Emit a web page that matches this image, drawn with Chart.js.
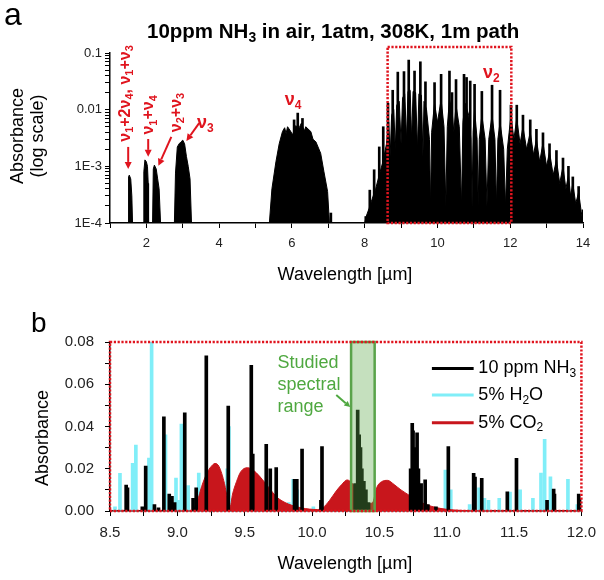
<!doctype html>
<html lang="en">
<head>
<meta charset="utf-8">
<title>NH3 absorbance spectra</title>
<script src="https://cdn.jsdelivr.net/npm/chart.js@4.4.1/dist/chart.umd.min.js"></script>
<style>
  *{ margin:0; padding:0; box-sizing:border-box; }
  body{ width:604px; height:580px; background:#fff; position:relative; overflow:hidden;
        font-family:Arial, "Liberation Sans", Helvetica, sans-serif; color:#000; }
  .pane{ position:absolute; left:0; width:604px; height:290px; }
  #paneA{ top:0; }
  #paneB{ top:290px; }
  .txt{ position:absolute; white-space:nowrap; line-height:1; }
  .mid{ transform:translate(-50%,-50%); }
  .rot{ transform:translate(-50%,-50%) rotate(-90deg); }
  sub{ font-size:0.68em; vertical-align:-0.28em; line-height:0; }
</style>
</head>
<body>
  <div class="pane" id="paneA"><canvas id="chartA" width="604" height="290"></canvas></div>
  <div class="pane" id="paneB"><canvas id="chartB" width="604" height="290"></canvas></div>

  <div class="txt" style="left:4px;top:-2px;font-size:32px">a</div>
  <div class="txt" style="left:147px;top:21px;font-size:20.5px;font-weight:bold">10ppm NH<sub>3</sub> in air, 1atm, 308K, 1m path</div>
  <div class="txt rot" style="left:17px;top:136px;font-size:18px">Absorbance</div>
  <div class="txt rot" style="left:37px;top:136px;font-size:18px">(log scale)</div>
  <div class="txt mid" style="left:345px;top:274px;font-size:18px">Wavelength [&micro;m]</div>

  <div class="txt" style="left:31px;top:309px;font-size:28px">b</div>
  <div class="txt rot" style="left:42px;top:438px;font-size:18px">Absorbance</div>
  <div class="txt mid" style="left:345px;top:563px;font-size:18px">Wavelength [&micro;m]</div>

<script>
// ---- panel a : NH3 band overview (log scale) ----
// dense band envelopes, 1e-4 = baseline between bands
const bandWl = [
  1.50, 1.51, 1.53, 1.57, 1.60, 1.62,
  1.91, 1.93, 1.96, 2.00, 2.03, 2.05, 2.06,
  2.17, 2.19, 2.22, 2.27, 2.31, 2.35, 2.39,
  2.77, 2.80, 2.85, 2.90, 2.95, 3.00, 3.05, 3.10, 3.15, 3.20, 3.24,
  5.38, 5.45, 5.56, 5.65, 5.74, 5.80, 5.84, 5.88, 5.96, 6.02, 6.10, 6.20, 6.26, 6.34, 6.38, 6.52, 6.58, 6.66, 6.79, 6.88, 6.98, 7.03,
  8.00, 8.04, 8.12, 8.20, 8.30, 8.40, 8.50, 8.60, 8.66, 8.70, 8.74, 8.80, 8.84, 8.88, 8.95, 9.00, 9.04, 9.10,
  9.15, 9.19, 9.25, 9.29, 9.33, 9.40, 9.45, 9.49, 9.56, 9.60, 9.63,
  9.70, 9.78, 9.81, 9.84, 9.92, 10.00, 10.10, 10.18, 10.23, 10.27, 10.33, 10.40, 10.45, 10.51, 10.60, 10.66,
  10.70, 10.76, 10.86, 10.92, 10.95, 10.98, 11.02, 11.09, 11.12, 11.15, 11.22, 11.31, 11.36, 11.41, 11.50,
  11.58, 11.62, 11.66, 11.72, 11.82, 11.87, 11.92, 11.97,
  12.02, 12.10, 12.18, 12.27, 12.35, 12.45, 12.55, 12.64, 12.72, 12.81, 12.90, 13.00, 13.08, 13.18, 13.27,
  13.36, 13.45, 13.53, 13.60, 13.66, 13.72, 13.80, 13.88, 13.95, 14.00
];
const bandAbs = [
  1e-4, 6.5e-4, 7e-4, 6e-4, 3e-4, 1e-4,
  1e-4, 8e-4, 1.3e-3, 1.2e-3, 1.0e-3, 5e-4, 1e-4,
  1e-4, 9e-4, 1.05e-3, 9e-4, 6e-4, 4e-4, 1e-4,
  1e-4, 7.6e-4, 2.2e-3, 2.5e-3, 2.7e-3, 2.9e-3, 2.5e-3, 1.5e-3, 1.0e-3, 6e-4, 1e-4,
  1e-4, 4e-4, 1.2e-3, 2.5e-3, 4.1e-3, 4.8e-3, 3.8e-3, 5e-3, 4.2e-3, 3.6e-3, 5.2e-3, 4.8e-3, 5.8e-3, 4.2e-3, 5e-3, 4.1e-3, 3.0e-3, 2.7e-3, 1.7e-3, 8e-4, 3.6e-4, 1e-4,
  1e-4, 1.3e-4, 1.8e-4, 2.6e-4, 4e-4, 7e-4, 1.2e-3, 2.5e-3, 6e-3, 1.5e-3, 8e-3, 0.010, 2e-3, 0.012, 0.014, 2.5e-3, 0.016, 0.019,
  3e-3, 0.021, 0.022, 3e-3, 0.021, 0.020, 2e-3, 0.019, 0.018, 1.5e-3, 0.014,
  0.010, 0.003, 2e-4, 0.004, 0.013, 0.006, 0.015, 0.005, 2e-4, 0.005, 0.015, 0.010, 0.004, 0.012, 0.005, 2e-4,
  0.006, 0.013, 0.008, 0.003, 2e-4, 0.004, 0.010, 0.003, 2e-4, 0.003, 0.008, 0.003, 2e-4, 0.003, 0.008,
  0.003, 2e-4, 0.003, 0.006, 0.002, 2e-4, 0.002, 0.004,
  0.008, 0.003, 0.007, 0.0025, 0.005, 0.002, 0.004, 0.0016, 0.003, 0.0012, 0.0026, 0.001, 0.0018, 7e-4, 0.0013,
  5e-4, 1e-3, 4e-4, 7e-4, 3e-4, 5e-4, 2.2e-4, 3.5e-4, 1.6e-4, 1e-4
];
// strong individual lines
const lineWl = [
  6.06, 6.16, 6.29, 7.07,
  8.03, 8.14, 8.26, 8.40, 8.51, 8.64, 8.77, 8.91, 9.08, 9.21, 9.37, 9.53, 9.67, 9.92, 10.10,
  10.33, 10.40, 10.51, 10.73, 10.80, 10.90, 11.02, 11.22, 11.50,
  11.72, 12.02, 12.18, 12.35, 12.55, 12.72, 12.90, 13.08, 13.27, 13.45, 13.60, 13.72, 13.88, 14.00
];
const lineAbs = [
  6.6e-3, 8.7e-3, 7e-3, 1.5e-4,
  1.3e-4, 3.8e-4, 8.7e-4, 2.2e-3, 5e-3, 0.013, 0.022, 0.046, 0.047, 0.075, 0.048, 0.070, 0.031, 0.030, 0.042,
  0.048, 0.020, 0.034, 0.042, 0.037, 0.032, 0.028, 0.021, 0.027,
  0.022, 0.012, 0.012, 0.008, 6.6e-3, 4.5e-3, 3.9e-3, 2.5e-3, 1.9e-3, 1.4e-3, 1.0e-3, 6.5e-4, 4.4e-4, 1.7e-4
];
const xTicksA = [2, 4, 6, 8, 10, 12, 14];
const yTicksA = [1e-4, 1e-3, 0.01, 0.1];
const yTickTextA = ['1E-4', '1E-3', '0.01', '0.1'];

// ---- panel b : 8.5-12 um detail ----
const nh3Wl = [
  8.62, 8.63, 8.74, 8.765, 8.83, 8.86, 8.90, 8.94, 8.96, 8.98, 9.055, 9.117, 9.14, 9.215, 9.378, 9.549, 9.56,
  9.66, 9.69, 9.734, 9.87, 9.887, 9.926, 10.066, 10.074,
  10.32, 10.339, 10.35, 10.36, 10.37, 10.385, 10.40, 10.42,
  10.732, 10.744, 10.75, 10.76, 10.77, 10.78, 10.79, 10.81, 10.84, 10.86, 10.92,
  11.012, 11.20, 11.21, 11.26, 11.45, 11.518, 11.745, 11.794, 11.80, 11.98, 11.99
];
const nh3Abs = [
  0.0123, 0.011, 0.002, 0.0213, 0.003, 0.0015, 0.0446, 0.008, 0.007, 0.004, 0.0465, 0.006, 0.011, 0.0734, 0.0497, 0.069, 0.027,
  0.0316, 0.020, 0.0205, 0.015, 0.015, 0.0293, 0.005, 0.0305,
  0.013, 0.0478, 0.036, 0.030, 0.020, 0.014, 0.010, 0.004,
  0.020, 0.0415, 0.038, 0.030, 0.025, 0.037, 0.020, 0.013, 0.0147, 0.003, 0.002,
  0.0305, 0.0178, 0.016, 0.0155, 0.0091, 0.0249, 0.005, 0.0104, 0.008, 0.008, 0.006
];
const h2oWl = [
  8.537, 8.574, 8.668, 8.692, 8.789, 8.809, 8.912, 8.99, 9.01, 9.03, 9.08, 9.159, 9.37, 9.383,
  9.827, 9.86, 9.89, 10.01, 10.99, 11.03, 11.17, 11.24, 11.28, 11.31, 11.39, 11.47, 11.545,
  11.64, 11.70, 11.727, 11.77, 11.90, 11.97
];
const h2oAbs = [
  0.002, 0.0178, 0.0226, 0.0312, 0.025, 0.080, 0.036, 0.0156, 0.005, 0.0412, 0.012, 0.018, 0.020, 0.040,
  0.004, 0.015, 0.010, 0.002, 0.0194, 0.010, 0.003, 0.011, 0.006, 0.005, 0.006, 0.009, 0.010,
  0.006, 0.018, 0.0339, 0.0162, 0.015, 0.003
];
const co2Wl = [
  8.50, 9.08, 9.12, 9.15, 9.18, 9.22, 9.25, 9.28, 9.31, 9.35, 9.375, 9.39, 9.41, 9.44, 9.47, 9.52, 9.57,
  9.63, 9.68, 9.74, 9.80, 9.85, 9.92, 9.98, 10.04, 10.08, 10.13, 10.18, 10.22, 10.26, 10.30, 10.34, 10.38,
  10.42, 10.45, 10.48, 10.52, 10.56, 10.61, 10.66, 10.72, 10.78, 10.85, 10.93, 11.00, 11.10, 11.25, 12.00
];
const co2Abs = [
  0, 0, 0.0008, 0.005, 0.0115, 0.018, 0.021, 0.0225, 0.021, 0.013, 0.005, 0.0015, 0.008, 0.014, 0.0185, 0.0205, 0.019,
  0.015, 0.011, 0.0065, 0.004, 0.0027, 0.0015, 0.0009, 0.0007, 0.0015, 0.005, 0.0095, 0.0125, 0.0147, 0.013, 0.0095, 0.006,
  0.0035, 0.004, 0.011, 0.014, 0.0145, 0.0125, 0.010, 0.0075, 0.005, 0.003, 0.0015, 0.0008, 0.0003, 0, 0
];
const xTicksB = [8.5, 9.0, 9.5, 10.0, 10.5, 11.0, 11.5, 12.0];
const yTicksB = [0, 0.02, 0.04, 0.06, 0.08];

const FONT = 'Arial, "Liberation Sans", Helvetica, sans-serif';
const RED = '#e0141e';
const CO2RED = '#c8161c';
const CYAN = '#80eef8';
const GREEN = '#4fa840';

Chart.defaults.font.family = FONT;
Chart.defaults.color = '#222';

const pts = (xs, ys) => xs.map((v, i) => ({ x: v, y: ys[i] }));
const near = (arr, v) => arr.some(t => Math.abs(t - v) < 1e-6);

function rich(ctx, parts, cx, cy, size, opts) {
  opts = opts || {};
  const wt = opts.bold === false ? '' : 'bold ';
  const fm = wt + size + 'px ' + FONT, fs = wt + Math.round(size * 0.68) + 'px ' + FONT;
  ctx.save();
  ctx.translate(cx, cy);
  if (opts.rot) ctx.rotate(opts.rot);
  ctx.textBaseline = 'middle';
  ctx.textAlign = 'left';
  let w = 0;
  for (const [t, s] of parts) { ctx.font = s ? fs : fm; w += ctx.measureText(t).width; }
  let px = opts.left ? 0 : -w / 2;
  for (const [t, s] of parts) {
    ctx.font = s ? fs : fm;
    ctx.fillText(t, px, s ? size * 0.3 : 0);
    px += ctx.measureText(t).width;
  }
  ctx.restore();
}

function arrow(ctx, x1, y1, x2, y2, color, w, head) {
  const a = Math.atan2(y2 - y1, x2 - x1);
  const bx = x2 - head * Math.cos(a), by = y2 - head * Math.sin(a);
  ctx.save();
  ctx.strokeStyle = color; ctx.fillStyle = color; ctx.lineWidth = w;
  ctx.beginPath(); ctx.moveTo(x1, y1); ctx.lineTo(bx, by); ctx.stroke();
  ctx.beginPath(); ctx.moveTo(x2, y2);
  ctx.lineTo(bx + head * 0.5 * Math.sin(a), by - head * 0.5 * Math.cos(a));
  ctx.lineTo(bx - head * 0.5 * Math.sin(a), by + head * 0.5 * Math.cos(a));
  ctx.closePath(); ctx.fill();
  ctx.restore();
}

function axisGrid() {
  return { offset: false, drawOnChartArea: false, drawTicks: true, tickLength: 5, color: '#000', lineWidth: 1 };
}

// annotations for panel a
const notesA = {
  id: 'notesA',
  afterDatasetsDraw(chart) {
    const { ctx } = chart;
    const X = v => chart.scales.x.getPixelForValue(v);
    const Y = v => chart.scales.y.getPixelForValue(v);
    ctx.save();
    ctx.strokeStyle = RED; ctx.lineWidth = 2.5; ctx.setLineDash([2.2, 1.6]);
    ctx.strokeRect(X(8.63), Y(0.128), X(12.03) - X(8.63), Y(1e-4) - Y(0.128));
    ctx.setLineDash([]);
    ctx.fillStyle = RED;
    const up = -Math.PI / 2;
    rich(ctx, [['\u03bd', 0], ['1', 1], ['+2\u03bd', 0], ['4', 1], [', \u03bd', 0], ['1', 1], ['+\u03bd', 0], ['3', 1]], X(1.42), Y(0.0193), 16, { rot: up });
    rich(ctx, [['\u03bd', 0], ['1', 1], ['+\u03bd', 0], ['4', 1]], X(2.07), Y(8.1e-3), 16, { rot: up });
    rich(ctx, [['\u03bd', 0], ['2', 1], ['+\u03bd', 0], ['3', 1]], X(2.82), Y(8.9e-3), 16, { rot: up });
    rich(ctx, [['\u03bd', 0], ['3', 1]], X(3.62), Y(5.8e-3), 18);
    rich(ctx, [['\u03bd', 0], ['4', 1]], X(6.03), Y(0.0148), 18);
    rich(ctx, [['\u03bd', 0], ['2', 1]], X(11.48), Y(0.0444), 18);
    arrow(ctx, X(1.50), Y(2.2e-3), X(1.50), Y(9.0e-4), RED, 2, 7);
    arrow(ctx, X(2.05), Y(3.04e-3), X(2.05), Y(1.47e-3), RED, 2, 7);
    arrow(ctx, X(2.685), Y(3.3e-3), X(2.33), Y(1.02e-3), RED, 2, 7);
    arrow(ctx, X(3.45), Y(5.8e-3), X(3.10), Y(2.8e-3), RED, 2, 7);
    ctx.restore();
  }
};

// annotations for panel b
const notesB = {
  id: 'notesB',
  afterDatasetsDraw(chart) {
    const { ctx, chartArea: ca } = chart;
    const X = v => chart.scales.x.getPixelForValue(v);
    const Y = v => chart.scales.y.getPixelForValue(v);
    ctx.save();
    // studied range box
    ctx.fillStyle = 'rgba(95,170,75,0.36)';
    ctx.fillRect(X(10.29), Y(0.08), X(10.465) - X(10.29), Y(0) - Y(0.08));
    ctx.strokeStyle = '#5aa34a'; ctx.lineWidth = 2.5;
    ctx.strokeRect(X(10.29), Y(0.08), X(10.465) - X(10.29), Y(0) - Y(0.08));
    ctx.fillStyle = GREEN;
    ctx.font = '18px ' + FONT; ctx.textBaseline = 'middle'; ctx.textAlign = 'left';
    ctx.fillText('Studied', X(9.743), Y(0.0701));
    ctx.fillText('spectral', X(9.743), Y(0.0597));
    ctx.fillText('range', X(9.743), Y(0.0492));
    arrow(ctx, X(10.18), Y(0.0549), X(10.284), Y(0.0492), GREEN, 2, 6);
    // legend
    const rows = [
      ['#000', [['10 ppm NH', 0], ['3', 1]], 0.0675],
      [CYAN, [['5% H', 0], ['2', 1], ['O', 0]], 0.0549],
      [CO2RED, [['5% CO', 0], ['2', 1]], 0.0418]
    ];
    ctx.fillStyle = '#000';
    for (const [col, parts, yv] of rows) {
      ctx.strokeStyle = col; ctx.lineWidth = 3;
      ctx.beginPath(); ctx.moveTo(X(10.89), Y(yv)); ctx.lineTo(X(11.20), Y(yv)); ctx.stroke();
      rich(ctx, parts, X(11.235), Y(yv), 18, { bold: false, left: true });
    }
    // dotted frame over the whole plot area
    ctx.strokeStyle = RED; ctx.lineWidth = 2.5; ctx.setLineDash([2.2, 1.6]);
    ctx.strokeRect(ca.left, ca.top, ca.right - ca.left, ca.bottom - ca.top);
    ctx.restore();
  }
};

new Chart(document.getElementById('chartA'), {
  type: 'bar',
  data: {
    datasets: [
      { type: 'bar', data: pts(lineWl, lineAbs), backgroundColor: '#000', barThickness: 2, grouped: false, order: 0 },
      { type: 'line', data: pts(bandWl, bandAbs), borderColor: '#000', backgroundColor: '#000', borderWidth: 1,
        pointRadius: 0, fill: 'start', tension: 0, order: 1 }
    ]
  },
  options: {
    responsive: false, devicePixelRatio: 1, animation: false, events: [],
    layout: { padding: { top: 53, right: 21, left: 0, bottom: 0 } },
    plugins: { legend: { display: false }, tooltip: { enabled: false } },
    scales: {
      x: {
        type: 'linear', min: 1, max: 14, offset: false,
        afterFit: s => { s.height = 67; },
        grid: axisGrid(),
        border: { color: '#000', width: 1.5 },
        ticks: { stepSize: 1, autoSkip: false, maxRotation: 0, padding: 8, font: { size: 13 },
                 callback: v => near(xTicksA, v) ? String(v) : '' }
      },
      y: {
        type: 'logarithmic', min: 1e-4, max: 0.1,
        afterFit: s => { s.width = 110; },
        afterBuildTicks: s => {
          s.ticks = s.ticks.filter(t => {
            const m = t.value / Math.pow(10, Math.floor(Math.log10(t.value) + 1e-9));
            return Math.abs(m - Math.round(m)) < 1e-6;
          });
        },
        grid: axisGrid(),
        border: { color: '#000', width: 1.5 },
        ticks: { autoSkip: false, padding: 3, font: { size: 13 },
                 callback: v => { const i = yTicksA.findIndex(t => Math.abs(t - v) / t < 1e-6); return i >= 0 ? yTickTextA[i] : ''; } }
      }
    }
  },
  plugins: [notesA]
});

new Chart(document.getElementById('chartB'), {
  type: 'bar',
  data: {
    datasets: [
      { type: 'bar', label: '10 ppm NH3', data: pts(nh3Wl, nh3Abs), backgroundColor: '#000', barThickness: 3, grouped: false, order: 0 },
      { type: 'line', label: '5% CO2', data: pts(co2Wl, co2Abs), borderColor: CO2RED, backgroundColor: CO2RED, borderWidth: 1,
        pointRadius: 0, fill: 'origin', cubicInterpolationMode: 'monotone', order: 1 },
      { type: 'bar', label: '5% H2O', data: pts(h2oWl, h2oAbs), backgroundColor: CYAN, barThickness: 3, grouped: false, order: 2 }
    ]
  },
  options: {
    responsive: false, devicePixelRatio: 1, animation: false, events: [],
    layout: { padding: { top: 52, right: 21, left: 0, bottom: 0 } },
    plugins: { legend: { display: false }, tooltip: { enabled: false } },
    scales: {
      x: {
        type: 'linear', min: 8.5, max: 12, offset: false,
        afterFit: s => { s.height = 69; },
        grid: axisGrid(),
        border: { color: '#000', width: 1.5 },
        ticks: { stepSize: 0.25, autoSkip: false, maxRotation: 0, padding: 8, font: { size: 15 },
                 callback: v => near(xTicksB, v) ? v.toFixed(1) : '' }
      },
      y: {
        type: 'linear', min: 0, max: 0.08,
        afterFit: s => { s.width = 110; },
        grid: axisGrid(),
        border: { color: '#000', width: 1.5 },
        ticks: { stepSize: 0.01, autoSkip: false, padding: 11, font: { size: 15 },
                 callback: v => near(yTicksB, v) ? v.toFixed(2) : '' }
      }
    }
  },
  plugins: [notesB]
});
</script>
</body>
</html>
